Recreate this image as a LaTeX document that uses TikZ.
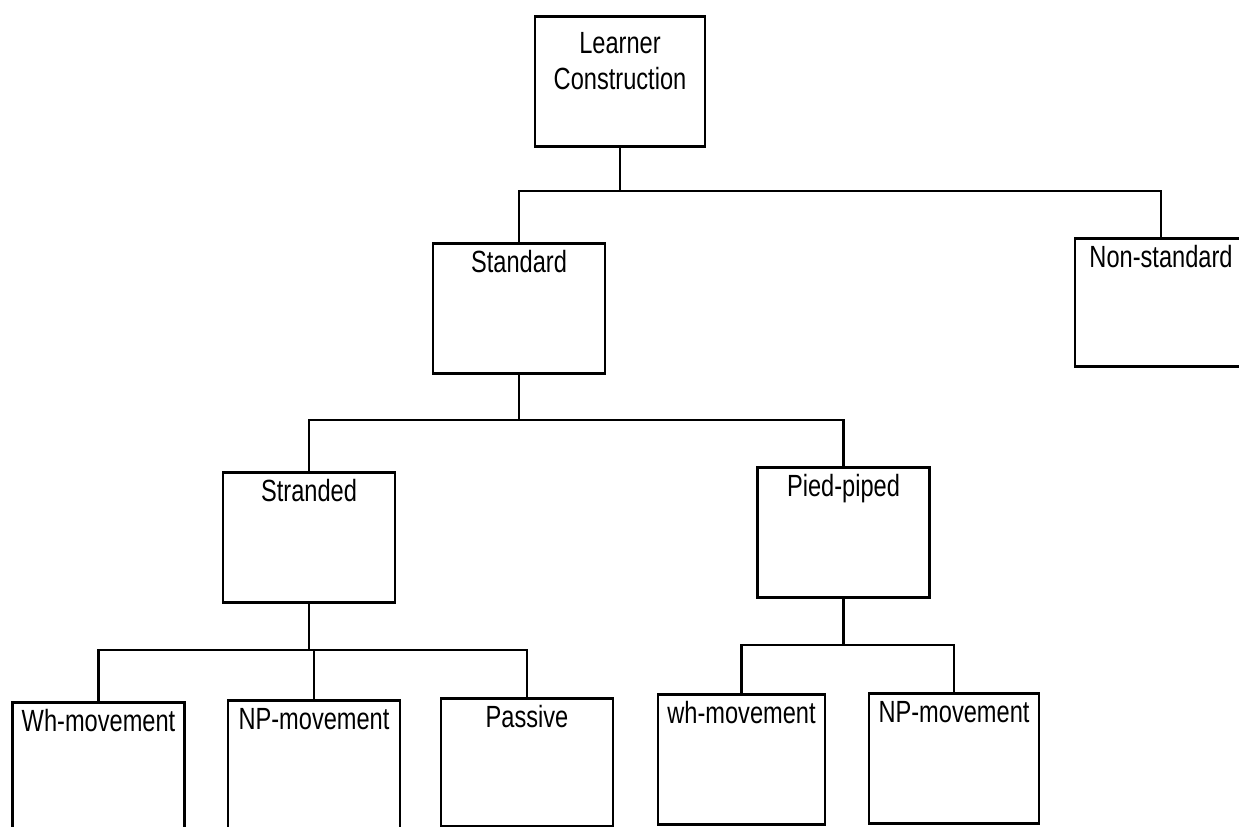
\documentclass[tikz,border=0pt]{standalone}
\usepackage{fontspec}
\setmainfont[FakeStretch=0.77]{Liberation Sans}
\begin{document}
\begin{tikzpicture}[x=0.75pt,y=0.75pt,yscale=-1,xscale=1,
  box/.style={draw, line width=1.9pt, inner sep=0pt, anchor=north, align=center,
    minimum width=129pt, text height=22pt, text depth=75.5pt,
    font=\fontsize{23}{27}\selectfont},
  link/.style={line width=1.9pt}]
\useasboundingbox (0,0) rectangle (1239,827);
\clip (0,0) rectangle (1239,827);
\node [box, minimum width=127.5pt, text height=55pt, text depth=42.5pt] (root) at (620,15) {Learner\\Construction};
\node [box] (std) at (519,242) {Standard};
\node [box, text depth=74pt] (nonstd) at (1161,237) {Non-standard};
\node [box] (strd) at (309,471) {Stranded};
\node [box] (pied) at (843.5,466) {Pied-piped};
\node [box] (whA) at (98.5,701) {Wh-movement};
\node [box] (npA) at (314,699) {NP-movement};
\node [box, text depth=74pt] (pass) at (527,697) {Passive};
\node [box, minimum width=125.25pt] (whB) at (741.5,693) {wh-movement};
\node [box, minimum width=127.5pt] (npB) at (954,692) {NP-movement};
\coordinate (barA) at (620,191);
\coordinate (barB) at (519,420);
\coordinate (barC) at (309,650);
\coordinate (barD) at (843.5,645);
\draw [link] (root.south) -- (barA);
\draw [link] (std.north) |- (barA) -| (nonstd.north);
\draw [link] (std.south) -- (barB);
\draw [link] (strd.north) |- (barB) -| (pied.north);
\draw [link] (strd.south) -- (barC);
\draw [link] (whA.north) |- (barC) -| (pass.north);
\draw [link] (npA.north) -- (npA.north |- barC);
\draw [link] (pied.south) -- (barD);
\draw [link] (whB.north) |- (barD) -| (npB.north);
\end{tikzpicture}
\end{document}
